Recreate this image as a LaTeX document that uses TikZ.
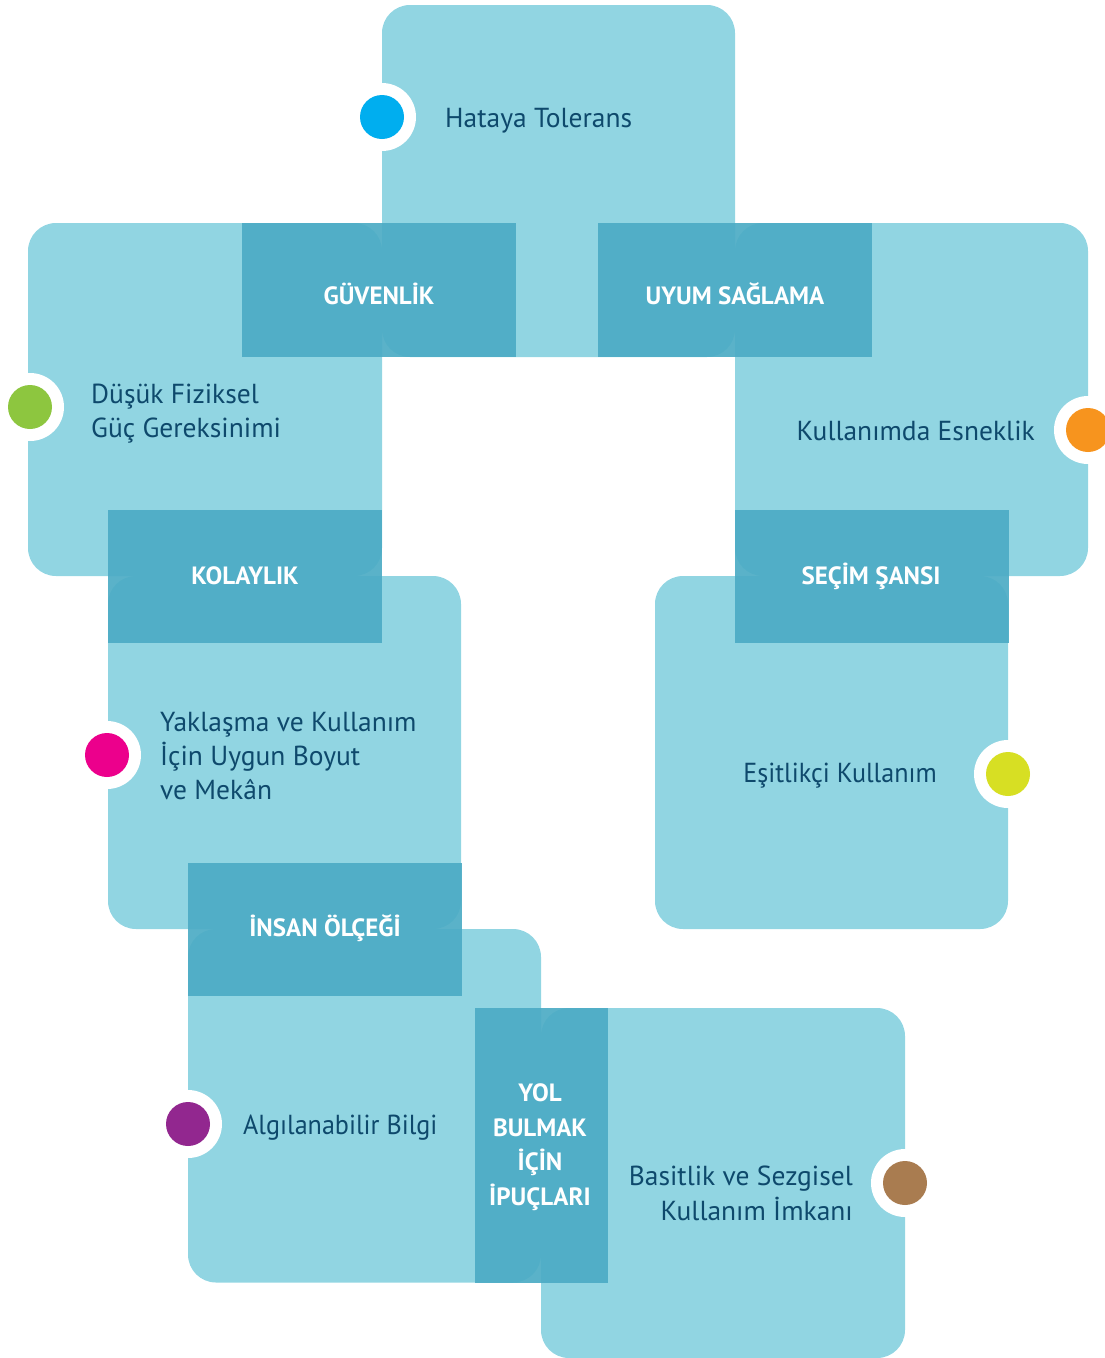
\documentclass[tikz,border=0pt]{standalone}
\usepackage{fontspec}
\setmainfont{PT Sans}
\newfontfamily\narrowfont[FakeStretch=0.95]{PT Sans}
\definecolor{lightbox}{RGB}{145,213,226}
\definecolor{bandc}{RGB}{77,172,197}
\definecolor{navy}{RGB}{14,73,108}
\definecolor{dotblue}{HTML}{00AEEF}
\definecolor{dotgreen}{HTML}{8DC63F}
\definecolor{dotorange}{HTML}{F7941E}
\definecolor{dotmagenta}{HTML}{EC008C}
\definecolor{dotyellow}{HTML}{D7DF23}
\definecolor{dotpurple}{HTML}{92278F}
\definecolor{dotbrown}{HTML}{A97C50}
\begin{document}
\begin{tikzpicture}[x=1pt,y=-1pt,
  boxnode/.style={rectangle, fill=lightbox, draw=none, rounded corners=28pt, inner sep=0pt, outer sep=0pt},
  bandnode/.style={rectangle, fill=bandc, fill opacity=0.93, draw=none, inner sep=0pt, outer sep=0pt},
  ring/.style={circle, fill=white, draw=none, minimum size=68pt, inner sep=0pt},
  dotnode/.style={circle, draw=none, minimum size=44pt, inner sep=0pt},
  lbl/.style={text=navy, font=\fontsize{27.5}{34}\selectfont, inner sep=0pt},
  nlbl/.style={text=navy, font=\narrowfont\fontsize{27.5}{34}\selectfont, inner sep=0pt},
  bandlbl/.style={text=white, font=\bfseries\fontsize{25}{34}\selectfont, inner sep=0pt, anchor=base}
]
\clip (0,0) rectangle (1105,1358);
% boxes
\node[boxnode, minimum width=353pt, minimum height=352pt] (A) at (558.5,181) {};
\node[boxnode, minimum width=354pt, minimum height=353pt] (B) at (205,399.5) {};
\node[boxnode, minimum width=353pt, minimum height=353pt] (C) at (911.5,399.5) {};
\node[boxnode, minimum width=353pt, minimum height=353pt] (D) at (284.5,752.5) {};
\node[boxnode, minimum width=353pt, minimum height=353pt] (E) at (831.5,752.5) {};
\node[boxnode, minimum width=353pt, minimum height=353.5pt] (F) at (364.5,1105.75) {};
\node[boxnode, minimum width=364pt, minimum height=350pt] (G) at (723,1183) {};
% bands
\node[bandnode, minimum width=274pt, minimum height=134pt] (bGV) at (379,290) {};
\node[bandnode, minimum width=274pt, minimum height=134pt] (bUY) at (735,290) {};
\node[bandnode, minimum width=274pt, minimum height=133pt] (bKO) at (245,576.5) {};
\node[bandnode, minimum width=273.5pt, minimum height=133pt] (bSE) at (871.75,576.5) {};
\node[bandnode, minimum width=274pt, minimum height=133pt] (bIN) at (325,929.5) {};
\node[bandnode, minimum width=133pt, minimum height=274.5pt] (bYO) at (541.5,1145.25) {};
% band labels
\node[bandlbl] (tGV) at (379,304) {GÜVENLİK};
\node[bandlbl] (tUY) at (735,304) {UYUM SAĞLAMA};
\node[bandlbl] (tKO) at (245,584) {KOLAYLIK};
\node[bandlbl] (tSE) at (871,584) {SEÇİM ŞANSI};
\node[bandlbl] (tIN) at (325,936.5) {İNSAN ÖLÇEĞİ};
\node[bandlbl] (tYO1) at (540,1101) {YOL};
\node[bandlbl] (tYO2) at (540,1136) {BULMAK};
\node[bandlbl] (tYO3) at (540,1170) {İÇİN};
\node[bandlbl] (tYO4) at (540,1205) {İPUÇLARI};
% rings and dots
\node[ring] (rA) at (382,117) {};
\node[dotnode, fill=dotblue] (dA) at (382,117) {};
\node[ring] (rB) at (30,407) {};
\node[dotnode, fill=dotgreen] (dB) at (30,407) {};
\node[ring] (rC) at (1088,430) {};
\node[dotnode, fill=dotorange] (dC) at (1088,430) {};
\node[ring] (rD) at (107,755) {};
\node[dotnode, fill=dotmagenta] (dD) at (107,755) {};
\node[ring] (rE) at (1008,774) {};
\node[dotnode, fill=dotyellow] (dE) at (1008,774) {};
\node[ring] (rF) at (188,1124) {};
\node[dotnode, fill=dotpurple] (dF) at (188,1124) {};
\node[ring] (rG) at (905,1183) {};
\node[dotnode, fill=dotbrown] (dG) at (905,1183) {};
% labels
\node[lbl, anchor=base west] (lA) at (445,127) {Hataya Tolerans};
\node[lbl, anchor=base west] (lB1) at (91,403) {Düşük Fiziksel};
\node[lbl, anchor=base west] (lB2) at (91,437) {Güç Gereksinimi};
\node[lbl, anchor=base east] (lC) at (1035,440) {Kullanımda Esneklik};
\node[lbl, anchor=base west] (lD1) at (160,731) {Yaklaşma ve Kullanım};
\node[lbl, anchor=base west] (lD2) at (160,765) {İçin Uygun Boyut};
\node[lbl, anchor=base west] (lD3) at (160,799) {ve Mekân};
\node[nlbl, anchor=base east] (lE) at (937,782) {Eşitlikçi Kullanım};
\node[nlbl, anchor=base west] (lF) at (243,1134) {Algılanabilir Bilgi};
\node[lbl, anchor=base east] (lG1) at (853,1185) {Basitlik ve Sezgisel};
\node[lbl, anchor=base east] (lG2) at (853,1220) {Kullanım İmkanı};
\end{tikzpicture}
\end{document}
